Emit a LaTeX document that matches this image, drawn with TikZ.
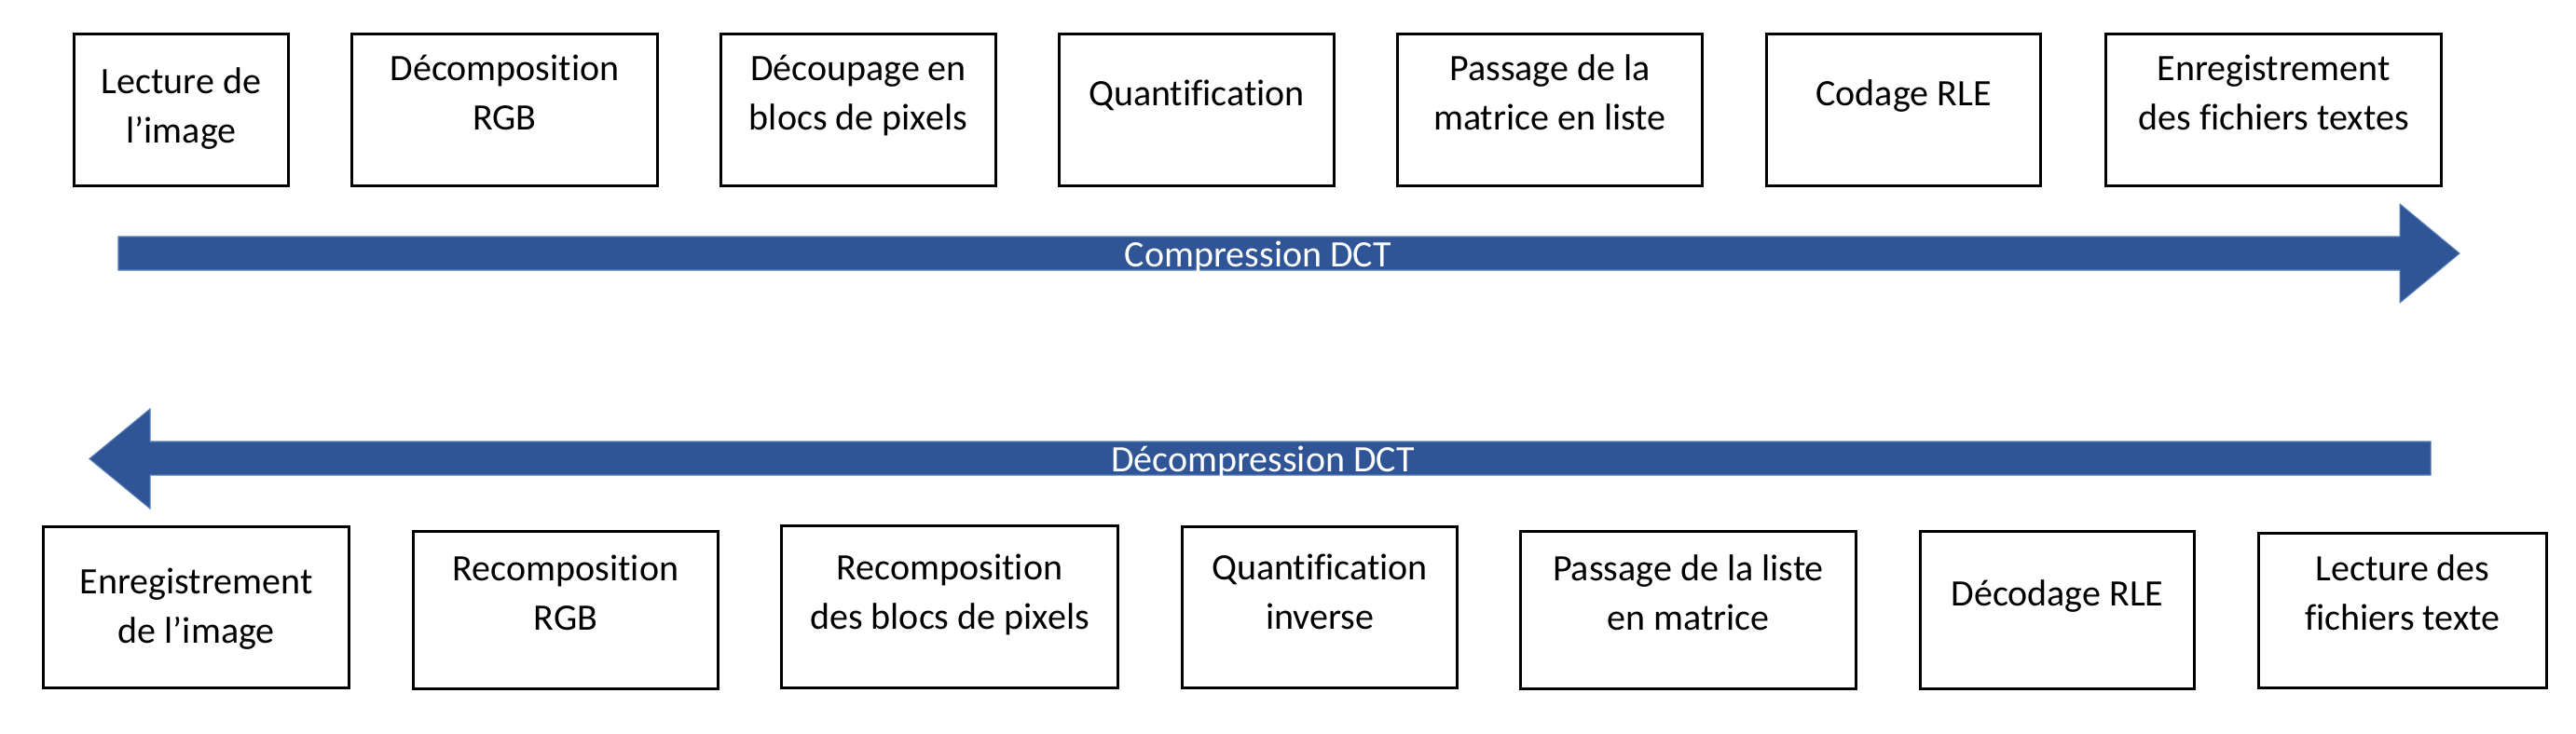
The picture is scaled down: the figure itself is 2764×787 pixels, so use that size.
\documentclass[tikz,border=0pt]{standalone}
\usepackage{fontspec}
\setmainfont{Carlito}[Ligatures=NoCommon]
\definecolor{arrowblue}{RGB}{47,85,151}
\definecolor{arrowedge}{RGB}{90,125,185}
\begin{document}
\begin{tikzpicture}[x=0.01cm,y=-0.01cm,
  box/.style={draw=black,line width=0.85pt,fill=white,inner sep=0pt,outer sep=0pt},
  txt/.style={align=center,inner sep=0pt,font=\fontsize{11.38}{15.08}\selectfont},
  arrtxt/.style={txt,text=white},
  blockarrow/.style={fill=arrowblue,draw=arrowedge,line width=0.3pt}]
\fill[white] (0,0) rectangle (2764,787);
\useasboundingbox (0,0) rectangle (2764,787);

% top row boxes
\node[box,minimum width=2.29cm,minimum height=1.63cm] (c1) at (194.5,118) {};
\node[box,minimum width=3.28cm,minimum height=1.63cm] (c2) at (541.5,118) {};
\node[box,minimum width=2.95cm,minimum height=1.63cm] (c3) at (921,118) {};
\node[box,minimum width=2.95cm,minimum height=1.63cm] (c4) at (1284,118) {};
\node[box,minimum width=3.27cm,minimum height=1.63cm] (c5) at (1663,118) {};
\node[box,minimum width=2.94cm,minimum height=1.63cm] (c6) at (2042.5,118) {};
\node[box,minimum width=3.60cm,minimum height=1.63cm] (c7) at (2439.5,118) {};

\node[txt] (c1t) at (194.5,115.9) {Lecture de\strut\\l’image\strut};
\node[txt] (c2t) at (541.5,102.4) {Décomposition\strut\\RGB\strut};
\node[txt] (c3t) at (921,102.4) {Découpage en\strut\\blocs de pixels\strut};
\node[txt] (c4t) at (1284,102.4) {Quantification\strut};
\node[txt] (c5t) at (1663,102.4) {Passage de la\strut\\matrice en liste\strut};
\node[txt] (c6t) at (2042.5,102.4) {Codage RLE\strut};
\node[txt] (c7t) at (2439.5,102.4) {Enregistrement\strut\\des fichiers textes\strut};

% compression arrow
\filldraw[blockarrow] (127,254) -- (2575,254) -- (2575,219) -- (2639,272)
  -- (2575,325) -- (2575,290) -- (127,290) -- cycle;
\node[arrtxt] (comp) at (1350,275.4) {Compression DCT\strut};

% decompression arrow
\filldraw[blockarrow] (2608,474) -- (161,474) -- (161,439) -- (96,492.5)
  -- (161,546) -- (161,510) -- (2608,510) -- cycle;
\node[arrtxt] (decomp) at (1355,495.4) {Décompression DCT\strut};

% bottom row boxes
\node[box,minimum width=3.275cm,minimum height=1.73cm] (d1) at (210.75,652) {};
\node[box,minimum width=3.27cm,minimum height=1.69cm] (d2) at (607,655) {};
\node[box,minimum width=3.61cm,minimum height=1.74cm] (d3) at (1019,651.5) {};
\node[box,minimum width=2.95cm,minimum height=1.73cm] (d4) at (1416,652) {};
\node[box,minimum width=3.60cm,minimum height=1.69cm] (d5) at (1811.5,655) {};
\node[box,minimum width=2.94cm,minimum height=1.69cm] (d6) at (2207.5,655) {};
\node[box,minimum width=3.09cm,minimum height=1.66cm] (d7) at (2578,655.5) {};

\node[txt] (d1t) at (210.75,652.9) {Enregistrement\strut\\de l’image\strut};
\node[txt] (d2t) at (607,639.4) {Recomposition\strut\\RGB\strut};
\node[txt] (d3t) at (1019,637.9) {Recomposition\strut\\des blocs de pixels\strut};
\node[txt] (d4t) at (1416,637.9) {Quantification\strut\\inverse\strut};
\node[txt] (d5t) at (1811.5,639.4) {Passage de la liste\strut\\en matrice\strut};
\node[txt] (d6t) at (2207.5,639.4) {Décodage RLE\strut};
\node[txt] (d7t) at (2578,639.4) {Lecture des\strut\\fichiers texte\strut};
\end{tikzpicture}
\end{document}
